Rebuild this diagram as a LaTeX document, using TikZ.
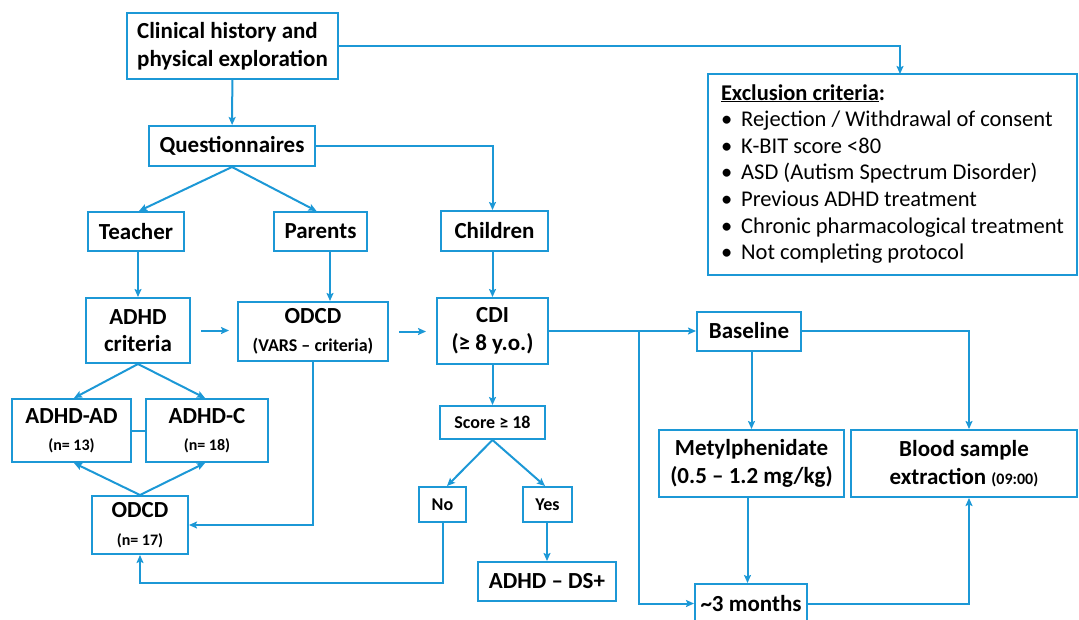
\documentclass[tikz,border=0pt]{standalone}
\usepackage{fontspec}
\setmainfont{Carlito}
\usetikzlibrary{arrows.meta}
\definecolor{cblue}{RGB}{28,152,214}

\begin{document}
\begin{tikzpicture}[x=1pt, y=-1pt]

%-------------------------------------------------
% Styles
%-------------------------------------------------
\tikzset{
  box/.style={draw=cblue, line width=2pt, fill=white, inner sep=0pt, align=center,
    font=\bfseries\fontsize{23}{27.5}\selectfont},
  tinybox/.style={box, font=\bfseries\fontsize{18}{22}\selectfont},
  listbox/.style={draw=cblue, line width=2pt, fill=white, inner sep=0pt, align=left,
    font=\fontsize{22.5}{26.6}\selectfont},
  link/.style={draw=cblue, line width=2pt},
  arr/.style={link, -{Stealth[length=8pt, width=7pt, inset=1.5pt]}}
}

\useasboundingbox (0,0) rectangle (1079,619);

%-------------------------------------------------
% Top: history, exclusion, questionnaires
%-------------------------------------------------
\node[box, align=left, minimum width=211, minimum height=66] (clin) at (232.5,46)
  {Clinical history and\\physical exploration};

\node[listbox, minimum width=369, minimum height=201] (excl) at (892.5,174.5) {%
  \begin{tabular}{@{}l@{\hspace{9pt}}l@{}}
  \multicolumn{2}{@{}l@{}}{\textbf{\underline{Exclusion criteria}:}}\\
  \textbullet & Rejection / Withdrawal of consent\\
  \textbullet & K-BIT score <80\\
  \textbullet & ASD (Autism Spectrum Disorder)\\
  \textbullet & Previous ADHD treatment\\
  \textbullet & Chronic pharmacological treatment\\
  \textbullet & Not completing protocol
  \end{tabular}};

\node[box, minimum width=166, minimum height=40] (quest) at (232,146) {Questionnaires};

\node[box, minimum width=96, minimum height=39] (teach) at (136,231.5) {Teacher};
\node[box, minimum width=93, minimum height=39] (par) at (320.5,231.5) {Parents};
\node[box, minimum width=107, minimum height=40] (child) at (494.5,231) {Children};

%-------------------------------------------------
% Middle row
%-------------------------------------------------
\node[box, minimum width=104, minimum height=65] (crit) at (138,330.5) {ADHD\\criteria};
\node[box, minimum width=150, minimum height=59] (vars) at (313,331.5)
  {ODCD\\{\fontsize{18}{20}\selectfont (VARS – criteria)}};
\node[box, minimum width=111, minimum height=66] (cdi) at (492.5,331) {CDI\\(≥ 8 y.o.)};

%-------------------------------------------------
% Subtypes (left)
%-------------------------------------------------
\node[box, minimum width=119, minimum height=63] (ad) at (71.5,430.5)
  {ADHD-AD\\{\fontsize{16}{19}\selectfont (n= 13)}};
\node[box, minimum width=122, minimum height=63] (cc) at (207,430.5)
  {ADHD-C\\{\fontsize{16}{19}\selectfont (n= 18)}};
\node[box, minimum width=96, minimum height=58] (odcd) at (140,525)
  {ODCD\\{\fontsize{16}{19}\selectfont (n= 17)}};

%-------------------------------------------------
% Score branch
%-------------------------------------------------
\node[tinybox, minimum width=105, minimum height=33] (score) at (492.5,422.5) {Score ≥ 18};
\node[tinybox, minimum width=47, minimum height=35] (no) at (442.5,504.5) {No};
\node[tinybox, minimum width=49, minimum height=35] (yes) at (547.5,504.5) {Yes};
\node[box, minimum width=138, minimum height=39] (ds) at (547,581.5) {ADHD – DS+};

%-------------------------------------------------
% Treatment (right)
%-------------------------------------------------
\node[box, minimum width=104, minimum height=39] (base) at (749,331) {Baseline};
\node[box, minimum width=185, minimum height=67] (met) at (751.5,463.5)
  {Metylphenidate\\(0.5 – 1.2 mg/kg)};
\node[box, minimum width=226, minimum height=67] (blood) at (964,463.5)
  {Blood sample\\extraction {\fontsize{16}{19}\selectfont (09:00)}};
\node[box, minimum width=112, minimum height=39] (three) at (751,603.5) {\textasciitilde 3 months};

%-------------------------------------------------
% Connectors
%-------------------------------------------------
\coordinate (exin) at (900,74);
\draw[arr] (clin) -- (quest);
\draw[arr] (clin.east) -| (exin);

\draw[arr] (quest.south) -- ([xshift=3pt]teach.north);
\draw[arr] (quest.south) -- ([xshift=-4pt]par.north);
\draw[arr] (quest.east) -| ([xshift=-2pt]child.north);

\draw[arr] (teach.south -| crit.north) -- (crit.north);
\draw[arr] ([xshift=9.5pt]par.south) -- ([xshift=9.5pt]par.south |- vars.north);
\draw[arr] (child.south -| cdi.north) -- (cdi.north);

\draw[arr, shorten <=10pt, shorten >=8pt] (crit.east) -- (crit.east -| vars.west);
\draw[arr, shorten <=10pt, shorten >=10pt] (vars.east) -- (vars.east -| cdi.west);

\draw[arr] (crit.south) -- ([xshift=2.5pt]ad.north);
\draw[arr] (crit.south) -- ([xshift=-2pt]cc.north);
\draw[link] (ad.east) -- (cc.west);
\draw[arr] (odcd.north) -- ([xshift=2.5pt]ad.south);
\draw[arr] (odcd.north) -- ([xshift=-2pt]cc.south);
\draw[arr] (vars.south) |- (odcd.east);

\draw[arr] (cdi) -- (score);
\draw[arr] (score.south) -- ([xshift=4.5pt]no.north);
\draw[arr] (score.south) -- ([xshift=-2.5pt]yes.north);
\draw[arr] (no.south) |- ([yshift=-28pt]odcd.south) -- (odcd.south);
\draw[arr] (yes.south -| ds.north) -- (ds.north);

\coordinate (split) at (639,331);
\draw[arr] (cdi.east) -- (base.west);
\draw[arr] (split) |- (three.west);
\draw[arr] (base.south -| met.north) -- (met.north);
\draw[arr] (base.east) -| ([xshift=5pt]blood.north);
\draw[arr] ([xshift=-4pt]met.south) -- ([xshift=-4pt]met.south |- three.north);
\draw[arr] (three.east) -| ([xshift=5pt]blood.south);

\end{tikzpicture}
\end{document}
